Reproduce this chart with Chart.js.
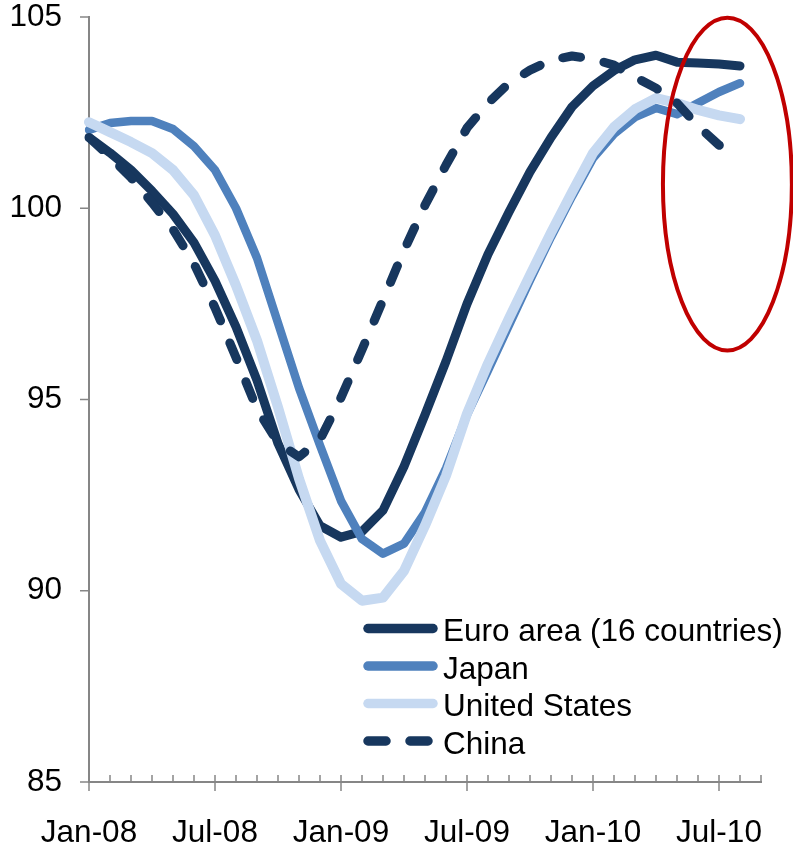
<!DOCTYPE html>
<html>
<head>
<meta charset="utf-8">
<title>Composite leading indicators</title>
<script src="https://cdn.jsdelivr.net/npm/chart.js@4.4.1/dist/chart.umd.min.js"></script>
<style>
  html, body { margin: 0; padding: 0; background: #ffffff; }
  canvas { display: block; }
</style>
</head>
<body>
<canvas id="cli" width="793" height="847"></canvas>
<script>
// Monthly categories, Jan-08 to Sep-10 (the axis runs one month past the last observation)
const months = [
  'Jan-08','Feb-08','Mar-08','Apr-08','May-08','Jun-08','Jul-08','Aug-08','Sep-08','Oct-08','Nov-08','Dec-08',
  'Jan-09','Feb-09','Mar-09','Apr-09','May-09','Jun-09','Jul-09','Aug-09','Sep-09','Oct-09','Nov-09','Dec-09',
  'Jan-10','Feb-10','Mar-10','Apr-10','May-10','Jun-10','Jul-10','Aug-10','Sep-10'
];

const euroArea = [
  101.85, 101.45, 101.0, 100.45, 99.85, 99.1, 98.1, 96.9, 95.5, 93.85, 92.65, 91.7,
  91.4, 91.55, 92.1, 93.25, 94.6, 96.0, 97.5, 98.8, 99.9, 100.95, 101.85, 102.65,
  103.2, 103.6, 103.88, 104.0, 103.82, 103.8, 103.77, 103.72, null
];

const japan = [
  102.05, 102.23, 102.28, 102.28, 102.07, 101.62, 101.0, 100.0, 98.7, 97.0, 95.3, 93.8,
  92.35, 91.35, 90.97, 91.23, 92.05, 93.2, 94.6, 95.76, 96.94, 98.12, 99.25, 100.31,
  101.31, 101.94, 102.38, 102.62, 102.46, 102.75, 103.04, 103.27, null
];

const unitedStates = [
  102.25, 101.99, 101.73, 101.44, 101.0, 100.34, 99.29, 97.98, 96.54, 94.8, 92.93, 91.31,
  90.18, 89.74, 89.82, 90.52, 91.7, 93.01, 94.63, 95.94, 97.12, 98.25, 99.36, 100.42,
  101.44, 102.12, 102.59, 102.88, 102.75, 102.57, 102.43, 102.33, null
];

const china = [
  101.85, 101.35, 100.8, 100.15, 99.45, 98.55, 97.4, 96.1, 94.75, 93.87, 93.5, 93.95,
  95.05, 96.3, 97.6, 98.9, 100.08, 101.13, 102.1, 102.75, 103.27, 103.61, 103.87, 103.98,
  103.9, 103.74, 103.43, 103.14, 102.75, 102.15, 101.65, 101.35, null
];

const seriesNames = ['Euro area (16 countries)', 'Japan', 'United States', 'China'];
const yTickValues = [85, 90, 95, 100, 105];

// Highlight ring around the latest readings (category index / index value)
const highlight = { centerIndex: 30.4, centerValue: 100.63, halfWidth: 3.07, halfHeight: 4.35 };

const FONT = "'Liberation Sans', Arial, Helvetica, sans-serif";
const TEXT_SIZE = 31.5;
const AXIS_GREY = '#868686';
const NAVY = '#17375E';
const MID_BLUE = '#4F81BD';
const PALE_BLUE = '#C6D9F1';
const RING_RED = '#C00000';

const isMajorMonth = (label) => /^(Jan|Jul)/.test(label);

// Axis tick marks: outside ticks on the value axis, monthly inside ticks on the
// category axis with longer crossing ticks for January and July.
const tickMarks = {
  id: 'tickMarks',
  afterDraw(chart) {
    const { ctx, chartArea, scales: { x, y } } = chart;
    ctx.save();
    ctx.strokeStyle = AXIS_GREY;
    ctx.lineWidth = 1.5;
    ctx.beginPath();
    y.ticks.forEach((t) => {
      const py = y.getPixelForValue(t.value);
      ctx.moveTo(chartArea.left - 9, py);
      ctx.lineTo(chartArea.left, py);
    });
    x.ticks.forEach((t, i) => {
      const px = x.getPixelForTick(i);
      const major = isMajorMonth(months[t.value]);
      ctx.moveTo(px, chartArea.bottom - 7);
      ctx.lineTo(px, chartArea.bottom + (major ? 9 : 0));
    });
    ctx.stroke();
    ctx.restore();
  }
};

// Red ellipse drawn over the series, sized from the scales
const highlightRing = {
  id: 'highlightRing',
  afterDatasetsDraw(chart) {
    const { ctx, scales: { x, y } } = chart;
    const cx = x.getPixelForValue(highlight.centerIndex);
    const cy = y.getPixelForValue(highlight.centerValue);
    const rx = Math.abs(x.getPixelForValue(highlight.centerIndex + highlight.halfWidth) - cx);
    const ry = Math.abs(y.getPixelForValue(highlight.centerValue + highlight.halfHeight) - cy);
    ctx.save();
    ctx.strokeStyle = RING_RED;
    ctx.lineWidth = 4;
    ctx.beginPath();
    ctx.ellipse(cx, cy, rx, ry, 0, 0, Math.PI * 2);
    ctx.stroke();
    ctx.restore();
  }
};

// Legend placed inside the plot, lower right
const insetLegend = {
  id: 'insetLegend',
  afterDraw(chart) {
    const { ctx } = chart;
    const x0 = 368, x1 = 433, textX = 443;
    const firstBaseline = 641, rowGap = 37.5;
    ctx.save();
    chart.data.datasets.forEach((ds, i) => {
      const base = firstBaseline + i * rowGap;
      const ly = base - 12.5;
      ctx.strokeStyle = ds.borderColor;
      ctx.lineWidth = 9.5;
      ctx.lineCap = 'round';
      ctx.setLineDash(ds.borderDash || []);
      ctx.beginPath();
      ctx.moveTo(x0, ly);
      ctx.lineTo(x1, ly);
      ctx.stroke();
      ctx.setLineDash([]);
      ctx.fillStyle = '#000000';
      ctx.font = TEXT_SIZE + 'px ' + FONT;
      ctx.textAlign = 'left';
      ctx.textBaseline = 'alphabetic';
      ctx.fillText(ds.label, textX, base);
    });
    ctx.restore();
  }
};

const lineStyle = {
  pointRadius: 0,
  pointHoverRadius: 0,
  tension: 0,
  fill: false,
  borderCapStyle: 'round',
  borderJoinStyle: 'round'
};

new Chart(document.getElementById('cli'), {
  type: 'line',
  data: {
    labels: months,
    datasets: [
      { ...lineStyle, label: seriesNames[0], data: euroArea, borderColor: NAVY, borderWidth: 9, order: 4 },
      { ...lineStyle, label: seriesNames[1], data: japan, borderColor: MID_BLUE, borderWidth: 8.5, order: 3 },
      { ...lineStyle, label: seriesNames[2], data: unitedStates, borderColor: PALE_BLUE, borderWidth: 10, order: 2 },
      { ...lineStyle, label: seriesNames[3], data: china, borderColor: NAVY, borderWidth: 9, borderDash: [18, 24], order: 1 }
    ]
  },
  options: {
    responsive: false,
    animation: false,
    devicePixelRatio: 1,
    layout: { padding: { top: 17, right: 32, bottom: 0, left: 0 } },
    plugins: {
      legend: { display: false },
      tooltip: { enabled: false }
    },
    scales: {
      x: {
        type: 'category',
        offset: false,
        grid: { display: false, drawTicks: false },
        border: { display: true, color: AXIS_GREY, width: 2 },
        ticks: {
          autoSkip: false,
          maxRotation: 0,
          minRotation: 0,
          padding: 32,
          color: '#000000',
          font: { family: FONT, size: TEXT_SIZE, lineHeight: 1.2 },
          callback: (value) => (isMajorMonth(months[value]) ? months[value] : '')
        },
        afterFit: (scale) => { scale.height = 65; }
      },
      y: {
        min: 85,
        max: 105,
        afterBuildTicks: (scale) => { scale.ticks = yTickValues.map((v) => ({ value: v })); },
        grid: { display: false, drawTicks: false },
        border: { display: true, color: AXIS_GREY, width: 2 },
        ticks: {
          padding: 27,
          color: '#000000',
          font: { family: FONT, size: TEXT_SIZE, lineHeight: 1.0 }
        },
        afterFit: (scale) => {
          scale.width = 89;
          scale.paddingTop = 0;
          scale.paddingBottom = 0;
        }
      }
    }
  },
  plugins: [tickMarks, highlightRing, insetLegend]
});
</script>
</body>
</html>
